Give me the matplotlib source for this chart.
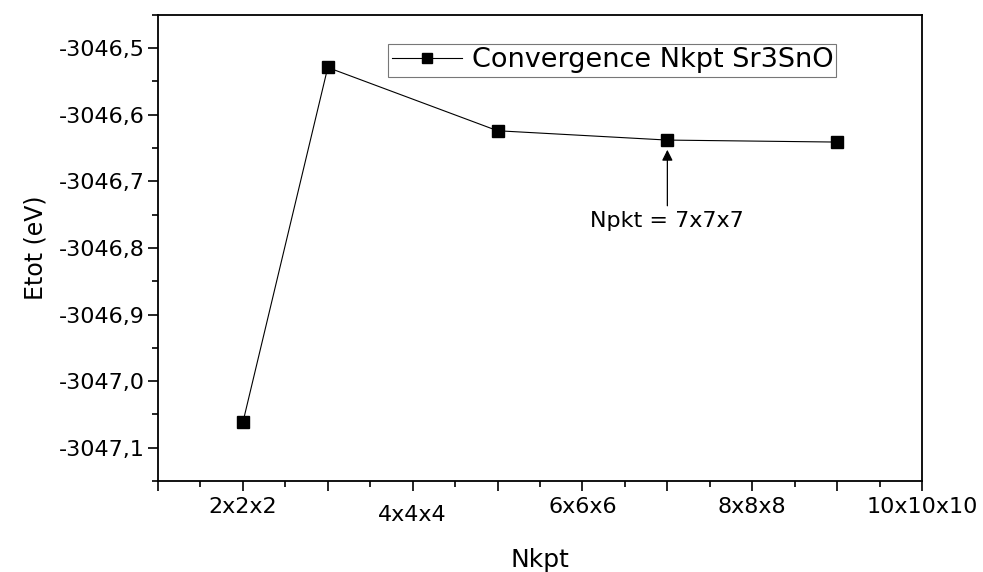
import numpy as np
import matplotlib.pyplot as plt
from matplotlib.ticker import MultipleLocator, FuncFormatter
import matplotlib.transforms as mtransforms

# k-point convergence of total energy for Sr3SnO
nk = [2, 3, 5, 7, 9]
etot = [-3047.062, -3046.529, -3046.624, -3046.638, -3046.641]
xtick_pos = [2, 4, 6, 8, 10]
xtick_lab = ['2x2x2', '4x4x4', '6x6x6', '8x8x8', '10x10x10']

plt.rcParams['font.family'] = ['DejaVu Sans']

fig = plt.figure(figsize=(9.83, 5.72), dpi=100)
ax = fig.add_axes([0.1607, 0.159, 0.7773, 0.815])

ax.plot(nk, etot, color='black', lw=0.8, marker='s', ms=9,
        label='Convergence Nkpt Sr3SnO')

ax.set_xlim(1, 10)
ax.set_ylim(-3047.15, -3046.45)

ax.xaxis.set_major_locator(MultipleLocator(1))
ax.xaxis.set_minor_locator(MultipleLocator(0.5))
lab_map = dict(zip(xtick_pos, xtick_lab))
ax.xaxis.set_major_formatter(FuncFormatter(lambda v, p: lab_map.get(int(round(v)), '')))

ax.yaxis.set_major_locator(MultipleLocator(0.1))
ax.yaxis.set_minor_locator(MultipleLocator(0.05))
ax.yaxis.set_major_formatter(FuncFormatter(lambda v, p: f'{v:.1f}'.replace('.', ',')))

ax.tick_params(which='major', direction='out', length=7.5, width=1.2,
               labelsize=16, pad=4)
ax.tick_params(which='minor', direction='out', length=4, width=1.2)
ax.tick_params(axis='y', which='major', pad=2)
for s in ax.spines.values():
    s.set_linewidth(1.3)

# 4x4x4 label sits a little lower
fig.canvas.draw()
for t in ax.get_xticklabels():
    if t.get_text() == '4x4x4':
        t.set_transform(t.get_transform() +
                        mtransforms.ScaledTranslation(0, -6/72, fig.dpi_scale_trans))

ax.set_xlabel('Nkpt', fontsize=18, labelpad=16)
ax.set_ylabel('Etot (eV)', fontsize=17, labelpad=8)

leg = ax.legend(loc='upper right', bbox_to_anchor=(0.888, 0.937), fontsize=19.5,
                frameon=True, fancybox=False, handlelength=2.6, markerscale=0.85,
                borderpad=0.12, handletextpad=0.35, borderaxespad=0)
leg.get_frame().set_edgecolor('#555555')
leg.get_frame().set_linewidth(0.8)

ax.annotate('Npkt = 7x7x7', xy=(7, etot[3]), xytext=(7, -3046.745),
            ha='center', va='top', fontsize=16,
            arrowprops=dict(arrowstyle='-|>', color='black', lw=0.9,
                            shrinkA=2, shrinkB=7, mutation_scale=16))

fig.savefig('out.png', dpi=100)
